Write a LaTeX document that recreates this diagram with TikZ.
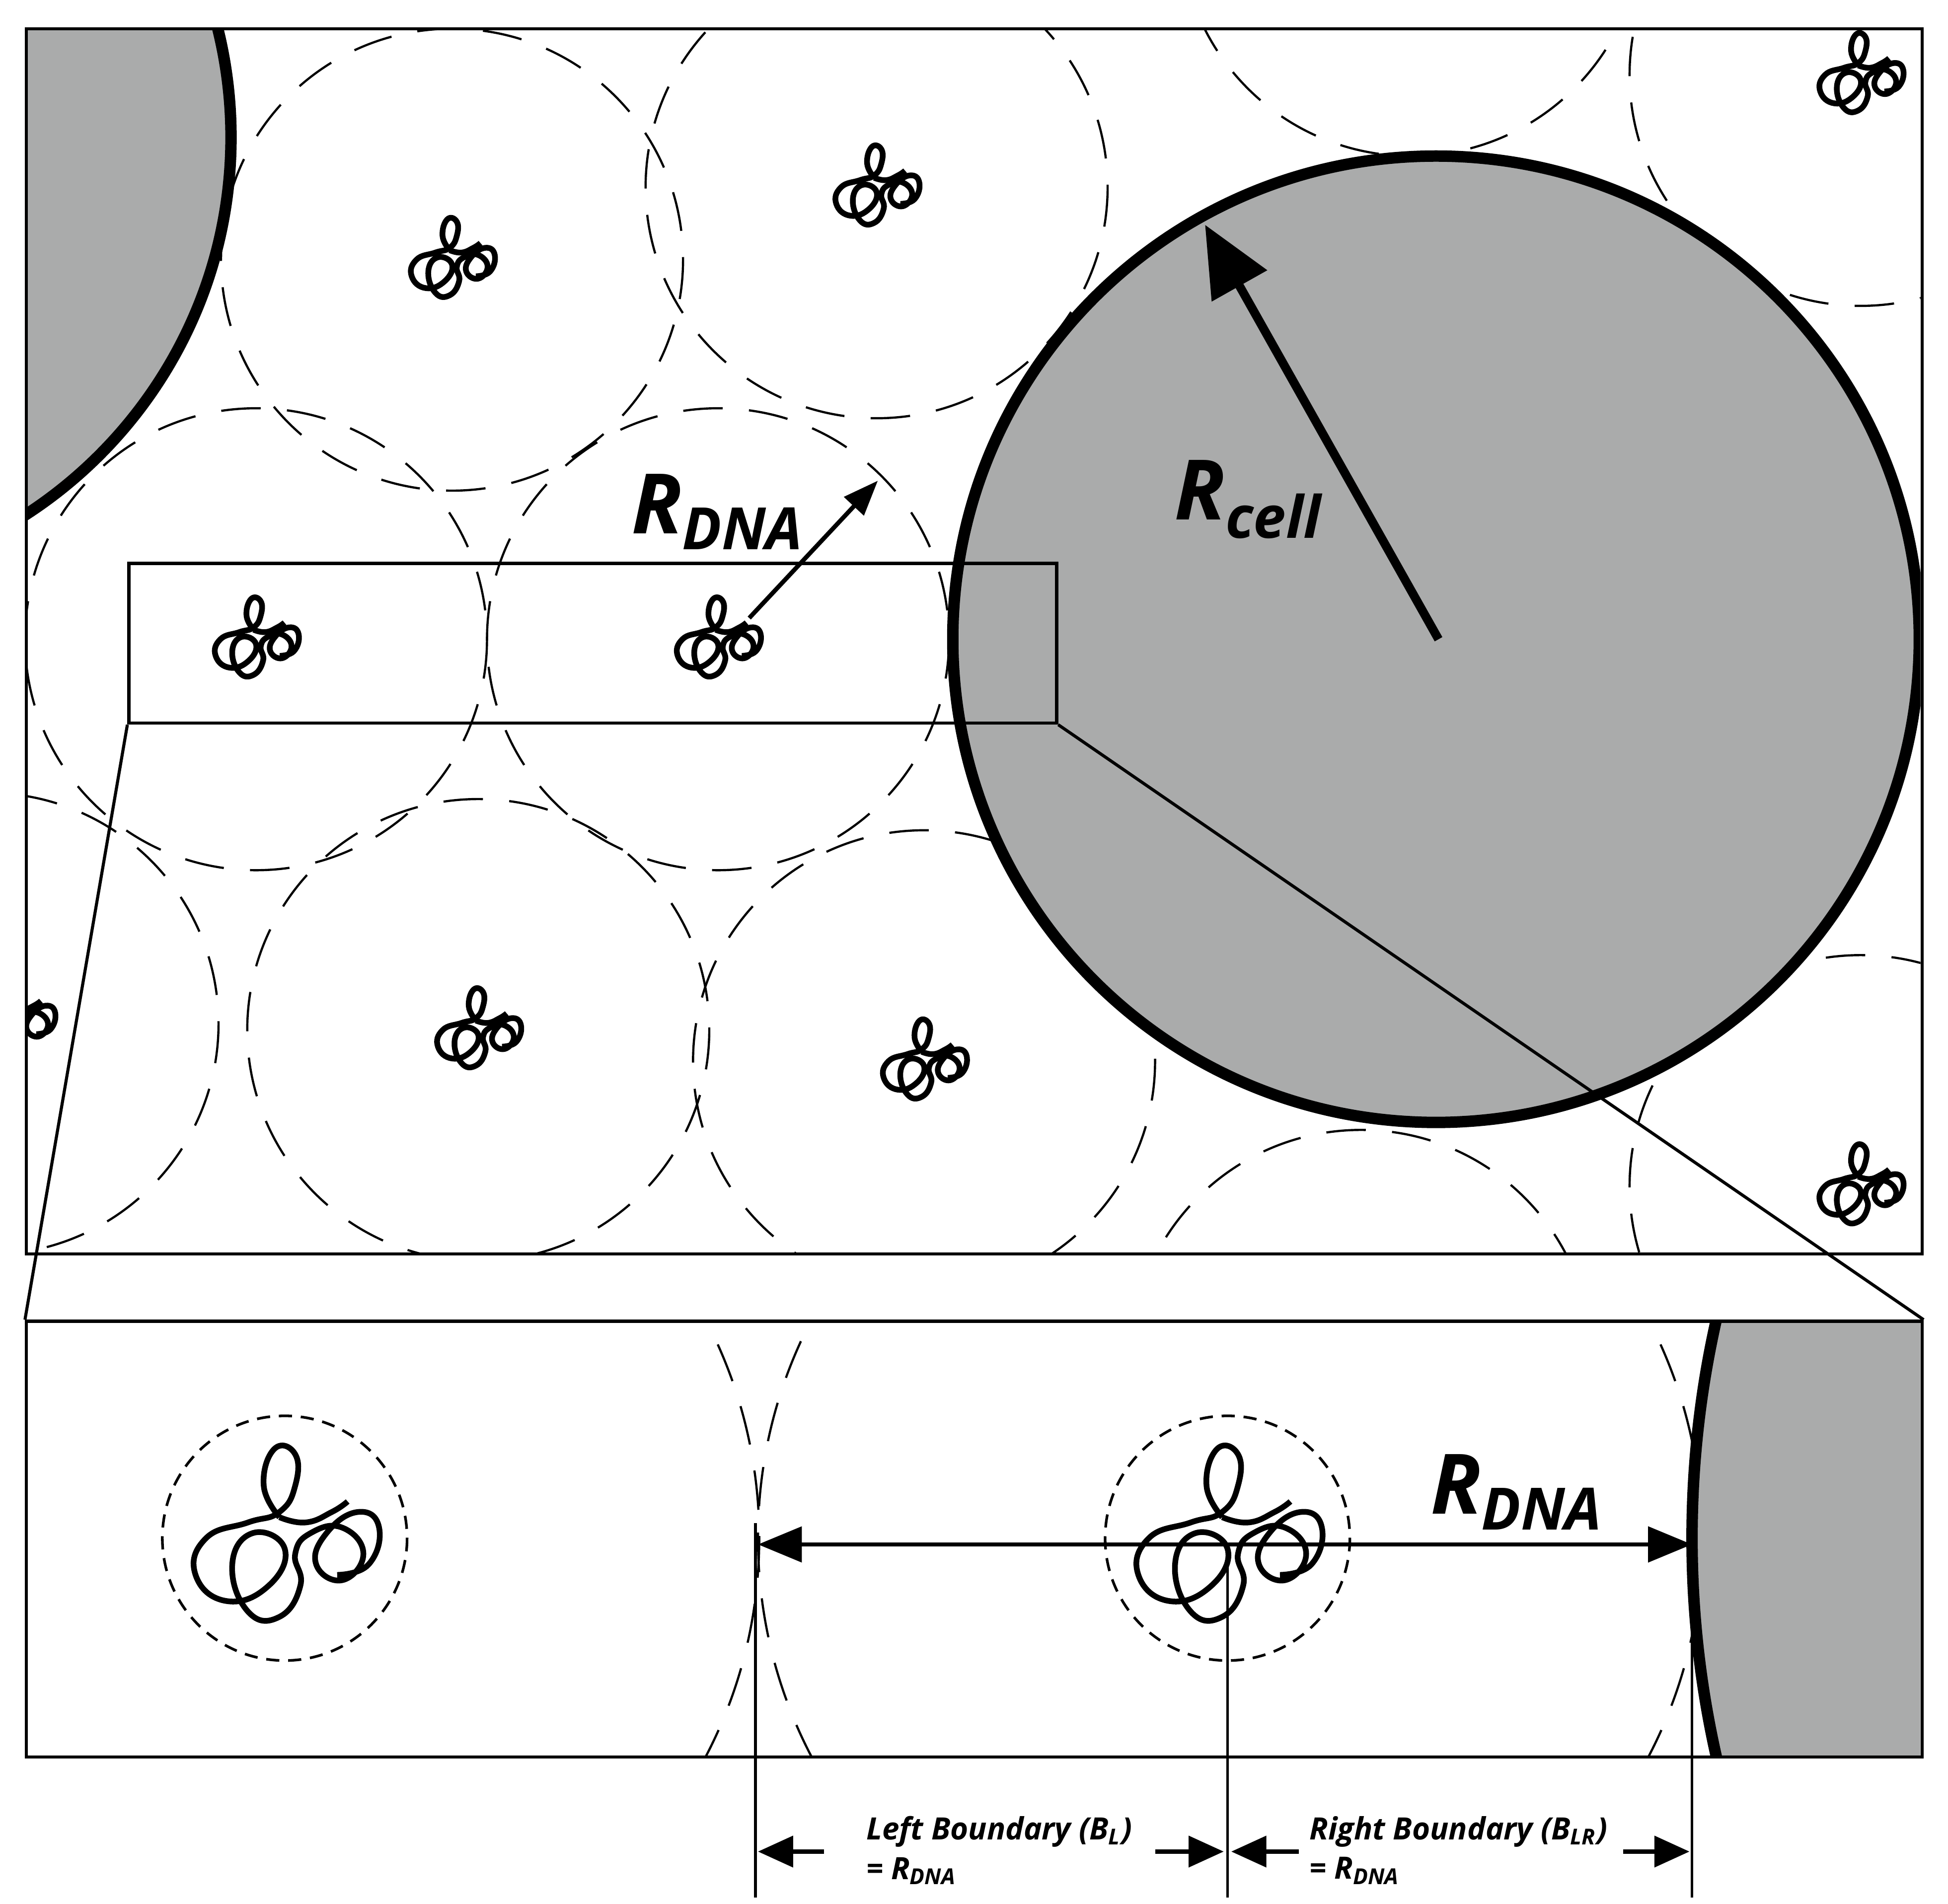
\documentclass[tikz,border=0pt]{standalone}
\usepackage{fontspec}
\setmainfont{Open Sans}
\usetikzlibrary{arrows.meta}
\definecolor{cellgray}{RGB}{170,171,171}
\tikzset{
 dashc/.style={dash pattern=on 9pt off 6pt, line width=0.5pt},
 cellc/.style={fill=cellgray, draw=black, line width=2.6pt},
 box/.style={draw=black, line width=0.7pt},
 dna/.pic={\draw[line width=1.3pt, line join=round] plot[smooth, tension=0.8] coordinates {
   (-2,-8) (-8,-20) (-4,-34) (4,-32) (4,-20) (-2,-10) (-14,-6) (-30,0) (-34,14) (-22,24) (-6,18) (0,4) (-12,-2) (-20,10) (-14,28) (-2,30) (6,18) (4,6) (10,-2) (22,-4) (30,6) (22,16) (12,10) (16,-2) (28,-10) (36,-4) (32,10) (20,14)};
   \draw[line width=1.3pt] plot[smooth, tension=0.8] coordinates {(-2,-8) (8,-6) (18,-10) (24,-14)};},
 big/.style={font=\fontsize{19}{22}\bfseries\itshape\selectfont},
 small/.style={font=\fontsize{7}{9}\bfseries\itshape\selectfont, align=left, anchor=north west, inner sep=0}
}
\begin{document}
\begin{tikzpicture}[x=0.01cm,y=-0.01cm]
\useasboundingbox (0,0) rectangle (1560,1525);
% top panel
\begin{scope}
\clip (20,22) rectangle (1538,1003);
\fill[cellgray] (-175,110) circle[radius=360];
\draw[line width=2.6pt] (-175,110) circle[radius=360];
\foreach \x/\y in {362/208,702/150,205/512,575/512,383/825,740/850,1130/-60,1490/60,1490/950,1090/1090,-10/820,1900/500}
  \draw[dashc] (\x,\y) circle[radius=185];
\foreach \x/\y in {362/208,702/150,205/512,575/512,383/825,740/850,1490/60,1490/950,10/815}
  \pic[scale=0.95] at (\x,\y) {dna};
\draw[cellc] (1150,512) circle[radius=387];
\end{scope}
\node[box, minimum width=1518*0.01cm, minimum height=981*0.01cm, anchor=north west, inner sep=0] (top) at (20,22) {};
\node[box, minimum width=743*0.01cm, minimum height=128*0.01cm, anchor=north west, inner sep=0] (zoom) at (102,450) {};
% arrows top
\coordinate (cc) at (1152,512);
\coordinate (ce) at (965,180);
\draw[line width=2pt, -{Triangle[length=16pt,width=14pt]}] (cc) -- (ce);
\node[big] (rc) at (1000,400) {R\textsubscript{cell}};
\coordinate (dc) at (600,495);
\coordinate (de) at (703,385);
\draw[line width=1pt, -{Triangle[length=8pt,width=6pt]}] (dc) -- (de);
\node[big] (rd) at (575,410) {R\textsubscript{DNA}};
% bottom panel
\begin{scope}
\clip (20,1057) rectangle (1538,1406);
\draw[dashc] (230,1232) circle[radius=378];
\draw[dashc] (985,1232) circle[radius=378];
\draw[cellc] (2145,1232) circle[radius=790];
\end{scope}
\node[box, minimum width=1518*0.01cm, minimum height=349*0.01cm, anchor=north west, inner sep=0] (bot) at (20,1057) {};
\draw[dash pattern=on 3pt off 2pt, line width=0.6pt] (228,1232) circle[radius=98];
\draw[dash pattern=on 3pt off 2pt, line width=0.6pt] (983,1232) circle[radius=98];
\pic[scale=2.1] at (228,1232) {dna};
\pic[scale=2.1] at (983,1232) {dna};
% zoom lines
\draw[line width=0.7pt] (zoom.south west) -- (bot.north west);
\draw[line width=0.7pt] (zoom.south east) -- (bot.north east);
% dimension
\coordinate (L) at (607,1237);
\coordinate (M) at (983,1237);
\coordinate (R) at (1355,1237);
\draw[line width=1pt, {Triangle[length=10pt,width=8pt]}-{Triangle[length=10pt,width=8pt]}] (L) -- (R);
\node[big] (rd2) at (1215,1195) {R\textsubscript{DNA}};
\coordinate (L2) at (605,1520);
\coordinate (M2) at (983,1520);
\coordinate (R2) at (1355,1520);
\draw[line width=0.6pt] (605,1220) -- (L2);
\draw[line width=0.6pt] (M) -- (M2);
\draw[line width=0.6pt] (1355,1220) -- (R2);
\tikzset{dim/.style={line width=1pt, -{Triangle[length=8pt,width=7pt]}}}
\draw[dim] (660,1483) -- (607,1483);
\draw[dim] (925,1483) -- (980,1483);
\draw[dim] (1040,1483) -- (986,1483);
\draw[dim] (1300,1483) -- (1353,1483);
\node[small] (lb) at (693,1454) {Left Boundary (B\textsubscript{L})\\= R\textsubscript{DNA}};
\node[small] (rb) at (1048,1454) {Right Boundary (B\textsubscript{LR})\\= R\textsubscript{DNA}};
\end{tikzpicture}
\end{document}
